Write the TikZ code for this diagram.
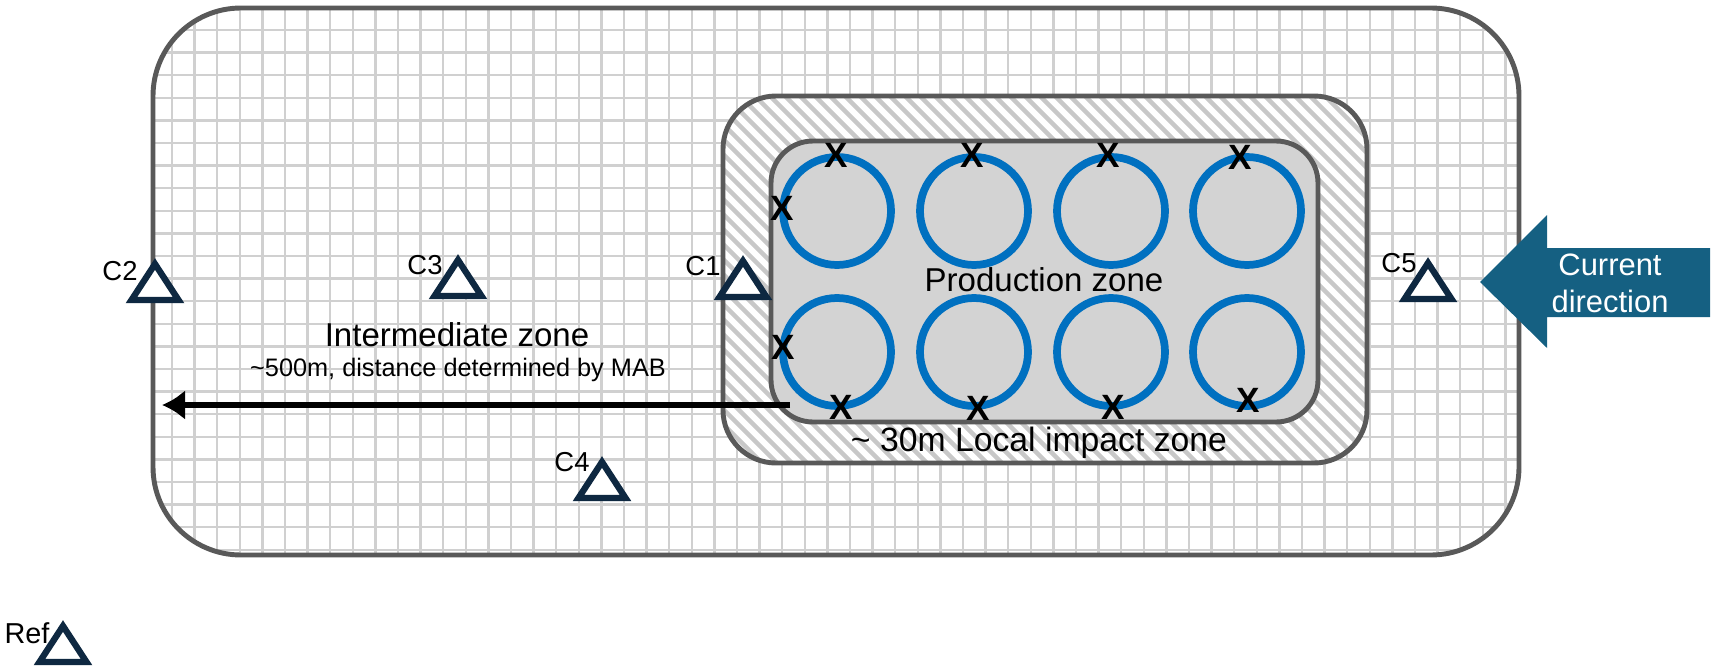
\documentclass[tikz,border=0pt]{standalone}
\usepackage{fontspec}
\setmainfont{Liberation Sans}
\usetikzlibrary{arrows.meta}
\definecolor{zoneline}{HTML}{595959}
\definecolor{gridgray}{HTML}{D0D0D0}
\definecolor{hatchgray}{HTML}{C8C8C8}
\definecolor{prodgray}{HTML}{D3D3D3}
\definecolor{wellblue}{HTML}{0070C0}
\definecolor{currteal}{HTML}{156082}
\definecolor{sensornavy}{HTML}{0E2841}
\begin{document}
\begin{tikzpicture}[x=0.1mm,y=-0.1mm,
    zone/.style={draw=zoneline,line width=1.4pt},
    gridln/.style={gridgray,line width=0.65pt},
    hatchln/.style={hatchgray,line width=0.45mm},
    well/.style={draw=wellblue,line width=2.2pt},
    xmark/.style={font=\fontsize{10}{12}\selectfont\bfseries,inner sep=0pt},
    sensor/.style={draw=sensornavy,fill=white,line width=1.8pt},
    lbl/.style={font=\fontsize{7.8}{9}\selectfont,inner sep=0pt},
    zonetxt/.style={font=\fontsize{9.4}{11}\selectfont,inner sep=0pt}]
    \useasboundingbox (0,0) rectangle (1713,672);
    % intermediate zone with grid
    \fill[white,rounded corners=8.8mm] (153,8) rectangle (1519,555);
    \begin{scope}
        \clip[rounded corners=8.8mm] (153,8) rectangle (1519,555);
        \foreach \k in {0,...,59} \draw[gridln] ({172+22.6*\k},8)--({172+22.6*\k},555);
        \foreach \k in {0,...,23} \draw[gridln] (153,{30+22.6*\k})--(1519,{30+22.6*\k});
    \end{scope}
    \draw[zone,rounded corners=8.8mm] (153,8) rectangle (1519,555);
    % local impact zone, hatched
    \fill[white,rounded corners=5.3mm] (723,96) rectangle (1367,463);
    \begin{scope}
        \clip[rounded corners=5.3mm] (723,96) rectangle (1367,463);
        \foreach \i in {350,365,...,1370} \draw[hatchln] (\i,96)--({\i+367},463);
    \end{scope}
    \draw[zone,rounded corners=5.3mm] (723,96) rectangle (1367,463);
    % production zone
    \draw[zone,fill=prodgray,rounded corners=4.2mm] (771,141) rectangle (1318,422);
    \foreach \x in {837,974,1111,1247}
        \foreach \y in {211,352}
            \draw[well] (\x,\y) circle[radius=5.4mm];
    \node[xmark] (x1) at (836,155) {X};
    \node[xmark] (x2) at (972,155) {X};
    \node[xmark] (x3) at (1108,155) {X};
    \node[xmark] (x4) at (1240,157) {X};
    \node[xmark] (x5) at (782,208) {X};
    \node[xmark] (x6) at (783,347) {X};
    \node[xmark] (x7) at (841,407) {X};
    \node[xmark] (x8) at (978,408) {X};
    \node[xmark] (x9) at (1113,407) {X};
    \node[xmark] (x10) at (1248,400) {X};
    \node[zonetxt] (prod) at (1044,280) {Production zone};
    \node[zonetxt,font=\fontsize{9.6}{11}\selectfont] (local) at (1039,443) {\textasciitilde{} 30m Local impact zone};
    \node[zonetxt] (inter) at (457,335) {Intermediate zone};
    \node[lbl,font=\fontsize{7.2}{9}\selectfont] (dist) at (458,370) {\textasciitilde500m, distance determined by MAB};
    % distance arrow
    \coordinate (arrS) at (790,405);
    \coordinate (arrE) at (162,405);
    \draw[line width=1.7pt,-{Latex[length=2.3mm,width=3mm]}] (arrS)--(arrE);
    % sampling stations
    \foreach \cx/\cy in {743/279,155/282,458/278,602/480,1428/281,63/644}
        \draw[sensor] (\cx,\cy) +(0,-18)--+(23.5,18)--+(-23.5,18)--cycle;
    \node[lbl] (lc1) at (703,266) {C1};
    \node[lbl] (lc2) at (120,271) {C2};
    \node[lbl] (lc3) at (425,265) {C3};
    \node[lbl] (lc4) at (572,462) {C4};
    \node[lbl] (lc5) at (1399,263) {C5};
    \node[lbl,font=\fontsize{8.2}{9}\selectfont] (lref) at (27,633) {Ref};
    % current direction
    \fill[currteal] (1480,282)--(1547,215)--(1547,248)--(1710,248)--(1710,317)--(1547,317)--(1547,348)--cycle;
    \node[white,align=center,font=\fontsize{8.8}{10.5}\selectfont,inner sep=0pt] (cur) at (1610,283) {Current\\direction};
\end{tikzpicture}
\end{document}
